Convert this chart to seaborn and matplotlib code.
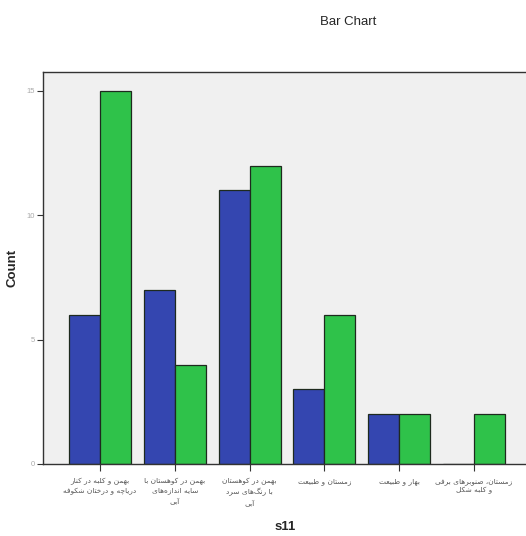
import unicodedata
import pandas as pd
import seaborn as sns
import matplotlib.pyplot as plt

# --- datos ---
categories = [
    "بهمن و کلبه در کنار\nدریاچه و درختان شکوفه",
    "بهمن در کوهستان با\nسایه اندازه‌های\nآبی",
    "بهمن در کوهستان\nبا رنگ‌های سرد\nآبی",
    "زمستان و طبیعت",
    "بهار و طبیعت",
    "زمستان، صنوبرهای برفی\nو کلبه شکل",
]
hue_groups = ["1", "2"]
counts_1 = [6, 7, 11, 3, 2, 0]
counts_2 = [15, 4, 12, 6, 2, 2]
y_ticks = [0, 5, 10, 15]

# --- forma de letras arabes/persas (matplotlib no hace shaping) ---
NO_LEFT_JOIN = set("ءاآأإدذرزژوؤة")


def _is_letter(c):
    return "\u0620" <= c <= "\u06ff" and unicodedata.category(c) == "Lo"


def _form(c, form):
    try:
        return unicodedata.lookup(unicodedata.name(c) + " " + form + " FORM")
    except KeyError:
        return c


def shape_line(text):
    out = []
    for i, c in enumerate(text):
        if not _is_letter(c):
            if c != "\u200c":
                out.append(c)
            continue
        prev = text[i - 1] if i > 0 else ""
        nxt = text[i + 1] if i + 1 < len(text) else ""
        p = _is_letter(prev) and prev not in NO_LEFT_JOIN
        q = c not in NO_LEFT_JOIN and _is_letter(nxt)
        if p and q:
            form = "MEDIAL"
        elif q:
            form = "INITIAL"
        elif p:
            form = "FINAL"
        else:
            form = "ISOLATED"
        out.append(_form(c, form))
    return "".join(reversed(out))


def shape(text):
    return "\n".join(shape_line(l) for l in text.split("\n"))


rows = []
for cat, a, b in zip(categories, counts_1, counts_2):
    rows.append({"s11": cat, "grupo": hue_groups[0], "Count": a})
    rows.append({"s11": cat, "grupo": hue_groups[1], "Count": b})
df = pd.DataFrame(rows)

sns.set_style("white")
plt.rcParams["font.family"] = ["Liberation Sans", "DejaVu Sans"]

fig = plt.figure(figsize=(5.26, 5.36), dpi=100)
ax = fig.add_axes([43 / 526, (536 - 464) / 536, 488 / 526, 392 / 536])

sns.barplot(data=df, x="s11", y="Count", hue="grupo", order=categories,
            hue_order=hue_groups, palette=["#3446b0", "#2fc24a"], saturation=1,
            width=0.83, edgecolor="#1e2a1e", linewidth=0.9, legend=False, ax=ax)

ax.set_facecolor("#f0f0f0")
ax.set_xlim(-0.76, 5.76)
ax.set_ylim(0, 15.76)
ax.set_yticks(y_ticks)
ax.set_yticklabels([str(t) for t in y_ticks], fontsize=5.5, color="#aaaaaa")
ax.set_xticks(range(len(categories)))
ax.set_xticklabels([shape(c) for c in categories], fontsize=5.3, color="#555555",
                   linespacing=1.5, family=["DejaVu Sans"])
ax.tick_params(axis="x", bottom=True, length=5, width=0.8, color="#333333",
               pad=5, direction="out")
ax.tick_params(axis="y", left=True, length=4, width=0.8, color="#333333",
               pad=2, direction="out")
for s in ax.spines.values():
    s.set_color("#333333")
    s.set_linewidth(1.0)

ax.set_xlabel("")
ax.set_ylabel("")
fig.text(348 / 526, 1 - 22 / 536, "Bar Chart", ha="center", va="center", fontsize=9.5)
fig.text(13 / 526, 1 - 268 / 536, "Count", ha="center", va="center", rotation=90,
         fontsize=9.5, fontweight="bold")
fig.text(285 / 526, 1 - 527 / 536, "s11", ha="center", va="center",
         fontsize=9.5, fontweight="bold")

fig.savefig("out.png", dpi=100)
